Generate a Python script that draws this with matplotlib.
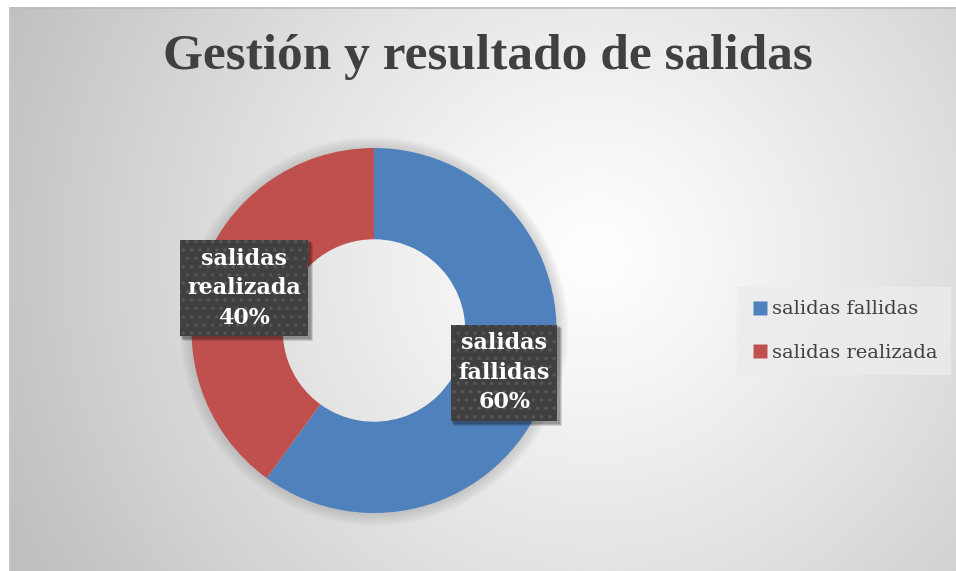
import numpy as np
import matplotlib
matplotlib.use("Agg")
import matplotlib.pyplot as plt
from matplotlib.lines import Line2D
from matplotlib.patches import Wedge, Rectangle
from matplotlib.transforms import IdentityTransform

categories = ["salidas fallidas", "salidas realizada"]
values = [60, 40]
colors = ["#4F81BD", "#C0504D"]
title = "Gestión y resultado de salidas"

W, H = 956, 571
DPI = 100
plt.rcParams['hatch.linewidth'] = 1.3
fig = plt.figure(figsize=(W / DPI, H / DPI), dpi=DPI, facecolor='white')

# background panel with radial gradient
x0, y0 = 9, 7
bg = fig.add_axes([x0 / W, 0, 1 - x0 / W, 1 - y0 / H])
bw, bh = W - x0, H - y0
yy, xx = np.mgrid[0:bh, 0:bw]
cx, cy = 595 - x0, 255 - y0
d = np.sqrt((xx - cx) ** 2 + (yy - cy) ** 2) / 645.0
v = 1.0 - 0.25 * np.clip(d, 0, 1) ** 1.15
img = np.dstack([v, v, v])
bg.imshow(img, extent=(0, bw, bh, 0), aspect='auto', interpolation='bilinear')
bg.set_xlim(0, bw)
bg.set_ylim(bh, 0)
bg.axis('off')
bg.plot([0, bw], [0.5, 0.5], color='#bdbdbd', lw=1.2)
bg.plot([0.5, 0.5], [0, bh], color='#c8c8c8', lw=1.2)

# donut
ccx, ccy, R = 374, 330.5, 182.5
ax = fig.add_axes([(ccx - R) / W, (H - ccy - R) / H, 2 * R / W, 2 * R / H])
ax.set_aspect('equal')
ax.axis('off')
# soft outer shadow (rings outside the donut)
for r in np.linspace(1.065, 1.005, 10):
    ax.add_patch(Wedge((0, -0.004), r, 0, 360, width=r - 0.98, facecolor='#909090',
                       alpha=0.04, lw=0, zorder=0.5, clip_on=False))
wedges, _ = ax.pie(values, colors=colors, startangle=90, counterclock=False,
                   radius=1.0, wedgeprops=dict(width=0.5, linewidth=0))
ax.set_xlim(-1, 1)
ax.set_ylim(-1, 1)

total = sum(values)
start = 90.0
label_texts = []
for cat, val in zip(categories, values):
    span = 360.0 * val / total
    mid = np.deg2rad(start - span / 2)
    start -= span
    lx, ly = 0.75 * np.cos(mid), 0.75 * np.sin(mid)
    parts = cat.split(' ')
    label = "\n".join(parts) + f"\n{val / total * 100:.0f}%"
    t = ax.text(lx, ly, label, color='white', zorder=5, ha='center', va='center',
                fontsize=16, fontweight='bold', family='DejaVu Serif',
                linespacing=1.45,
                bbox=dict(boxstyle='square,pad=0.33', facecolor='#404040',
                          edgecolor='#565656', linewidth=0, hatch='..'))
    label_texts.append(t)

# title
fig.text(488 / W, 1 - 57 / H, title, ha='center', va='center', fontsize=37,
         fontweight='bold', color='#404040', family='Liberation Serif')

# legend
handles = [Line2D([0], [0], marker='s', linestyle='none', markersize=10,
                  markerfacecolor=c, markeredgecolor='none') for c in colors]
leg = fig.legend(handles, categories, loc='center left',
                 bbox_to_anchor=(737 / W, 1 - 331 / H), frameon=True,
                 prop=dict(family='DejaVu Serif', size=14), labelcolor='#404040',
                 handletextpad=0.1, handlelength=1.0, labelspacing=1.3,
                 borderpad=0.7, borderaxespad=0, fancybox=False)
leg.get_frame().set_facecolor('#ececec')
leg.get_frame().set_alpha(0.8)
leg.get_frame().set_edgecolor('none')

# drop shadows behind the label boxes
fig.canvas.draw()
for t in label_texts:
    bb = t.get_bbox_patch().get_window_extent()
    for k, a in ((4, 0.12), (3, 0.15), (2, 0.15)):
        ax.add_patch(Rectangle((bb.x0 + k - 1, bb.y0 - k - 1), bb.width + 2, bb.height + 2,
                               transform=IdentityTransform(), facecolor='black',
                               alpha=a, lw=0, zorder=4, clip_on=False))

fig.savefig('out.png', dpi=DPI)
